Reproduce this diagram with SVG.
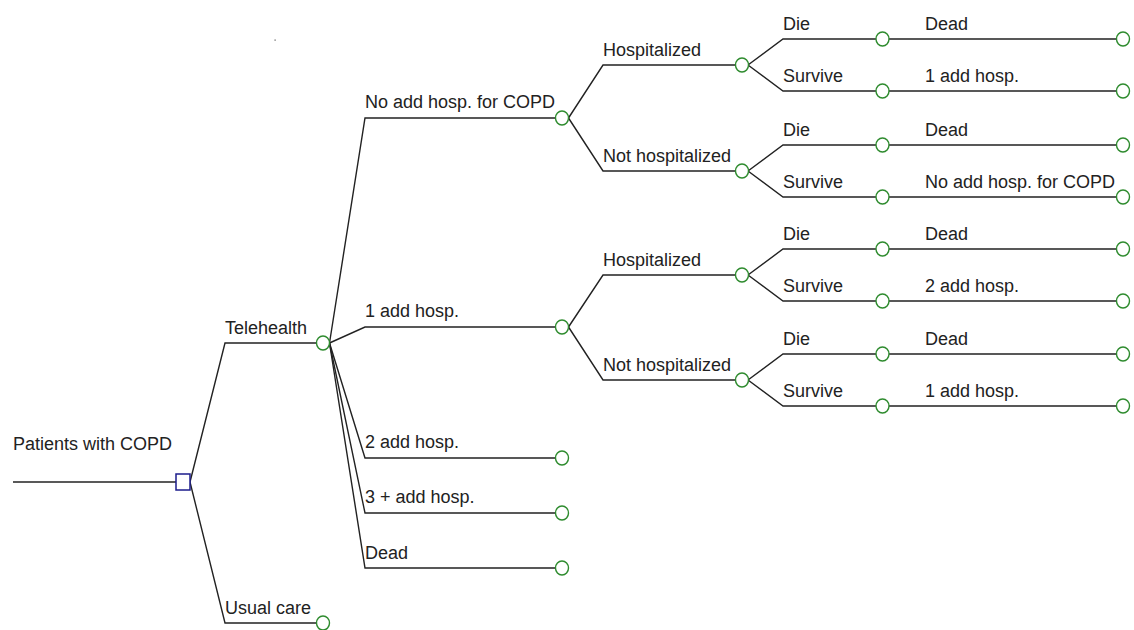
<svg xmlns="http://www.w3.org/2000/svg" width="1134" height="630" viewBox="0 0 1134 630">
  <style>
    .edge { fill: none; stroke: #222; stroke-width: 1.4; }
    .chance { fill: #fff; stroke: #2e8b2e; stroke-width: 1.4; }
    .decision { fill: #fff; stroke: #1c1c8c; stroke-width: 1.5; }
    .lbl { font-family: "Liberation Sans", Arial, sans-serif; font-size: 18px; fill: #222; }
  </style>
  <rect width="1134" height="630" fill="#fff"/>

  <!-- branches -->
  <g id="connectors">
    <!-- root -->
    <path class="edge" d="M13 482 H176"/>
    <path class="edge" d="M190 482 L225 343 H316.5"/>
    <path class="edge" d="M190 482 L225 623 H316.5"/>
    <!-- Telehealth fan -->
    <path class="edge" d="M329.5 343 L365 118 H555.5"/>
    <path class="edge" d="M329.5 343 L365 327 H555.5"/>
    <path class="edge" d="M329.5 343 L365 458 H555.5"/>
    <path class="edge" d="M329.5 343 L365 513 H555.5"/>
    <path class="edge" d="M329.5 343 L365 568 H555.5"/>
    <!-- No add hosp. for COPD -->
    <path class="edge" d="M568.5 118 L603 65 H735.5"/>
    <path class="edge" d="M568.5 118 L603 171 H735.5"/>
    <!-- 1 add hosp. -->
    <path class="edge" d="M568.5 327 L603 275 H735.5"/>
    <path class="edge" d="M568.5 327 L603 380 H735.5"/>
    <!-- Die / Survive splits -->
    <path class="edge" d="M748 65 L783 39 H876 M889 39 H1117"/>
    <path class="edge" d="M748 65 L783 91 H876 M889 91 H1117"/>
    <path class="edge" d="M748 171 L783 145 H876 M889 145 H1117"/>
    <path class="edge" d="M748 171 L783 197 H876 M889 197 H1117"/>
    <path class="edge" d="M748 275 L783 249 H876 M889 249 H1117"/>
    <path class="edge" d="M748 275 L783 301 H876 M889 301 H1117"/>
    <path class="edge" d="M748 380 L783 354 H876 M889 354 H1117"/>
    <path class="edge" d="M748 380 L783 406 H876 M889 406 H1117"/>
  </g>

  <!-- decision node -->
  <g id="root">
    <rect class="decision" x="176" y="474" width="14" height="16"/>
    <text class="lbl" x="13" y="450">Patients with COPD</text>
  </g>

  <g id="telehealth">
    <ellipse class="chance" cx="323" cy="343" rx="6.5" ry="7"/>
    <text class="lbl" x="225" y="334">Telehealth</text>
  </g>
  <g id="usual-care">
    <ellipse class="chance" cx="323" cy="623" rx="6.5" ry="7"/>
    <text class="lbl" x="225" y="614">Usual care</text>
  </g>

  <g id="no-add-hosp">
    <ellipse class="chance" cx="562" cy="118" rx="6.5" ry="7"/>
    <text class="lbl" x="365" y="108">No add hosp. for COPD</text>
  </g>
  <g id="one-add-hosp">
    <ellipse class="chance" cx="562" cy="327" rx="6.5" ry="7"/>
    <text class="lbl" x="365" y="317">1 add hosp.</text>
  </g>
  <g id="two-add-hosp">
    <ellipse class="chance" cx="562" cy="458" rx="6.5" ry="7"/>
    <text class="lbl" x="365" y="448">2 add hosp.</text>
  </g>
  <g id="three-add-hosp">
    <ellipse class="chance" cx="562" cy="513" rx="6.5" ry="7"/>
    <text class="lbl" x="365" y="503">3 + add hosp.</text>
  </g>
  <g id="dead-telehealth">
    <ellipse class="chance" cx="562" cy="568" rx="6.5" ry="7"/>
    <text class="lbl" x="365" y="559">Dead</text>
  </g>

  <g id="a-hosp">
    <ellipse class="chance" cx="742" cy="65" rx="6.5" ry="7"/>
    <text class="lbl" x="603" y="56">Hospitalized</text>
  </g>
  <g id="a-not-hosp">
    <ellipse class="chance" cx="742" cy="171" rx="6.5" ry="7"/>
    <text class="lbl" x="603" y="162">Not hospitalized</text>
  </g>
  <g id="b-hosp">
    <ellipse class="chance" cx="742" cy="275" rx="6.5" ry="7"/>
    <text class="lbl" x="603" y="266">Hospitalized</text>
  </g>
  <g id="b-not-hosp">
    <ellipse class="chance" cx="742" cy="380" rx="6.5" ry="7"/>
    <text class="lbl" x="603" y="371">Not hospitalized</text>
  </g>

  <!-- outcome rows -->
  <g id="a-hosp-die">
    <ellipse class="chance" cx="882.5" cy="39" rx="6.5" ry="7"/>
    <ellipse class="chance" cx="1123" cy="39" rx="6.5" ry="7"/>
    <text class="lbl" x="783" y="30">Die</text>
    <text class="lbl" x="925" y="30">Dead</text>
  </g>
  <g id="a-hosp-survive">
    <ellipse class="chance" cx="882.5" cy="91" rx="6.5" ry="7"/>
    <ellipse class="chance" cx="1123" cy="91" rx="6.5" ry="7"/>
    <text class="lbl" x="783" y="82">Survive</text>
    <text class="lbl" x="925" y="82">1 add hosp.</text>
  </g>
  <g id="a-not-die">
    <ellipse class="chance" cx="882.5" cy="145" rx="6.5" ry="7"/>
    <ellipse class="chance" cx="1123" cy="145" rx="6.5" ry="7"/>
    <text class="lbl" x="783" y="136">Die</text>
    <text class="lbl" x="925" y="136">Dead</text>
  </g>
  <g id="a-not-survive">
    <ellipse class="chance" cx="882.5" cy="197" rx="6.5" ry="7"/>
    <ellipse class="chance" cx="1123" cy="197" rx="6.5" ry="7"/>
    <text class="lbl" x="783" y="188">Survive</text>
    <text class="lbl" x="925" y="188">No add hosp. for COPD</text>
  </g>
  <g id="b-hosp-die">
    <ellipse class="chance" cx="882.5" cy="249" rx="6.5" ry="7"/>
    <ellipse class="chance" cx="1123" cy="249" rx="6.5" ry="7"/>
    <text class="lbl" x="783" y="240">Die</text>
    <text class="lbl" x="925" y="240">Dead</text>
  </g>
  <g id="b-hosp-survive">
    <ellipse class="chance" cx="882.5" cy="301" rx="6.5" ry="7"/>
    <ellipse class="chance" cx="1123" cy="301" rx="6.5" ry="7"/>
    <text class="lbl" x="783" y="292">Survive</text>
    <text class="lbl" x="925" y="292">2 add hosp.</text>
  </g>
  <g id="b-not-die">
    <ellipse class="chance" cx="882.5" cy="354" rx="6.5" ry="7"/>
    <ellipse class="chance" cx="1123" cy="354" rx="6.5" ry="7"/>
    <text class="lbl" x="783" y="345">Die</text>
    <text class="lbl" x="925" y="345">Dead</text>
  </g>
  <g id="b-not-survive">
    <ellipse class="chance" cx="882.5" cy="406" rx="6.5" ry="7"/>
    <ellipse class="chance" cx="1123" cy="406" rx="6.5" ry="7"/>
    <text class="lbl" x="783" y="397">Survive</text>
    <text class="lbl" x="925" y="397">1 add hosp.</text>
  </g>

  <!-- small speck near the top -->
  <rect x="274.5" y="39.5" width="1.2" height="1.2" fill="#555"/>
</svg>
